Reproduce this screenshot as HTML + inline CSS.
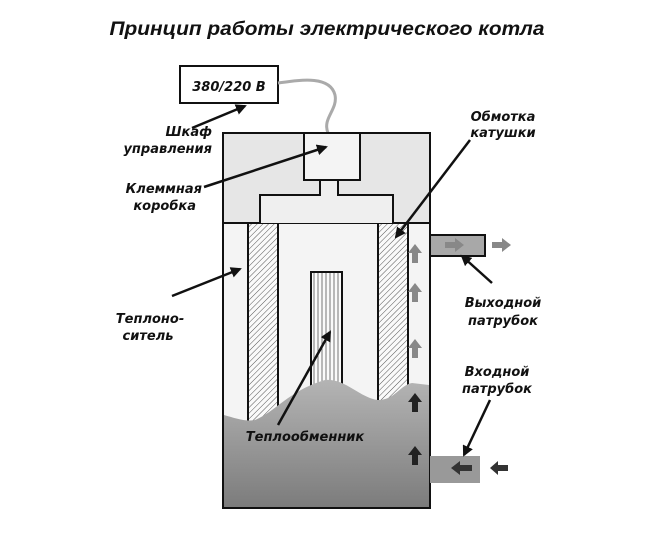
<!DOCTYPE html>
<html><head><meta charset="utf-8"><style>
html,body{margin:0;padding:0;background:#fff;}
svg{display:block}
text{font-family:"DejaVu Sans","Liberation Sans",sans-serif;font-weight:bold;font-style:italic;fill:#111;}
</style></head><body>
<svg width="668" height="538" viewBox="0 0 668 538" xmlns="http://www.w3.org/2000/svg">
<defs>
<pattern id="hatch" patternUnits="userSpaceOnUse" width="4" height="4" patternTransform="rotate(45)">
<rect width="4" height="4" fill="#fafafa"/><line x1="0" y1="0" x2="0" y2="4" stroke="#555" stroke-width="1"/>
</pattern>
<pattern id="vl" patternUnits="userSpaceOnUse" width="4" height="10">
<rect width="4" height="10" fill="#fafafa"/><line x1="2" y1="0" x2="2" y2="10" stroke="#555" stroke-width="0.8"/>
</pattern>
<linearGradient id="water" x1="0" y1="0" x2="0" y2="1">
<stop offset="0" stop-color="#b4b4b4"/><stop offset="1" stop-color="#7c7c7c"/>
</linearGradient>
<marker id="ah" markerWidth="11" markerHeight="11" refX="9" refY="5.5" orient="auto" markerUnits="userSpaceOnUse">
<path d="M0,0 L11,5.5 L0,11 Z" fill="#111"/>
</marker>
</defs>
<text x="327" y="35" font-size="19" text-anchor="middle" textLength="435" lengthAdjust="spacingAndGlyphs" style="font-family:'Liberation Sans',sans-serif">Принцип работы электрического котла</text>

<rect x="180" y="66" width="98" height="37" fill="#fff" stroke="#111" stroke-width="2"/>
<text x="229" y="91" font-size="13" text-anchor="middle">380/220 В</text>
<path d="M278,83 C300,80 330,75 335,95 C338,110 322,118 328,133" fill="none" stroke="#aaa" stroke-width="3"/>

<rect x="223" y="223" width="207" height="285" fill="#f4f4f4" stroke="#111" stroke-width="2"/>
<rect x="248" y="223" width="30" height="200" fill="url(#hatch)" stroke="#111" stroke-width="2"/>
<rect x="378" y="223" width="30" height="180" fill="url(#hatch)" stroke="#111" stroke-width="2"/>
<rect x="311" y="272" width="31" height="120" fill="url(#vl)" stroke="#111" stroke-width="2"/>
<path d="M224,415 C235,418 245,422 255,420 C275,412 290,390 325,380 C345,378 360,398 378,400 C395,400 400,385 412,383 L429,385 L429,507 L224,507 Z" fill="url(#water)"/>
<rect x="223" y="223" width="207" height="285" fill="none" stroke="#111" stroke-width="2"/>

<rect x="223" y="133" width="207" height="90" fill="#e6e6e6" stroke="#111" stroke-width="2"/>
<path d="M260,223 L260,195 L320,195 L320,180 L338,180 L338,195 L393,195 L393,223" fill="#efefef" stroke="#111" stroke-width="2"/>
<rect x="304" y="133" width="56" height="47" fill="#f4f4f4" stroke="#111" stroke-width="2"/>

<rect x="430" y="235" width="55" height="21" fill="#a8a8a8" stroke="#111" stroke-width="2"/>
<rect x="430" y="456" width="50" height="27" fill="#999"/>
<g fill="#888">
<path d="M445,242 h10 v-4 l9,7 l-9,7 v-4 h-10z"/>
<path d="M492,242 h10 v-4 l9,7 l-9,7 v-4 h-10z"/>
</g>
<g fill="#333">
<path d="M472,465 h-12 v-4 l-9,7 l9,7 v-4 h12z"/>
<path d="M508,465 h-10 v-4 l-8,7 l8,7 v-4 h10z"/>
</g>
<g fill="#888">
<path d="M412,263 v-10 h-4 l7,-9 l7,9 h-4 v10z"/>
<path d="M412,302 v-10 h-4 l7,-9 l7,9 h-4 v10z"/>
<path d="M412,358 v-10 h-4 l7,-9 l7,9 h-4 v10z"/>
</g>
<g fill="#222">
<path d="M412,412 v-10 h-4 l7,-9 l7,9 h-4 v10z"/>
<path d="M412,465 v-10 h-4 l7,-9 l7,9 h-4 v10z"/>
</g>

<g stroke="#111" stroke-width="2.5" fill="none" marker-end="url(#ah)">
<line x1="192" y1="128" x2="245" y2="106"/>
<line x1="204" y1="187" x2="326" y2="147"/>
<line x1="470" y1="140" x2="396" y2="237"/>
<line x1="172" y1="296" x2="240" y2="269"/>
<line x1="492" y1="283" x2="462" y2="256"/>
<line x1="490" y1="400" x2="464" y2="455"/>
<line x1="278" y1="425" x2="330" y2="332"/>
</g>

<g font-size="13">
<text x="212" y="136" text-anchor="end">Шкаф</text>
<text x="212" y="153" text-anchor="end">управления</text>
<text x="202" y="193" text-anchor="end">Клеммная</text>
<text x="196" y="210" text-anchor="end">коробка</text>
<text x="503" y="121" text-anchor="middle">Обмотка</text>
<text x="503" y="137" text-anchor="middle">катушки</text>
<text x="150" y="323" text-anchor="middle">Теплоно-</text>
<text x="148" y="340" text-anchor="middle">ситель</text>
<text x="503" y="307" text-anchor="middle">Выходной</text>
<text x="503" y="325" text-anchor="middle">патрубок</text>
<text x="497" y="376" text-anchor="middle">Входной</text>
<text x="497" y="393" text-anchor="middle">патрубок</text>
<text x="305" y="441" text-anchor="middle">Теплообменник</text>
</g>
</svg>
</body></html>
